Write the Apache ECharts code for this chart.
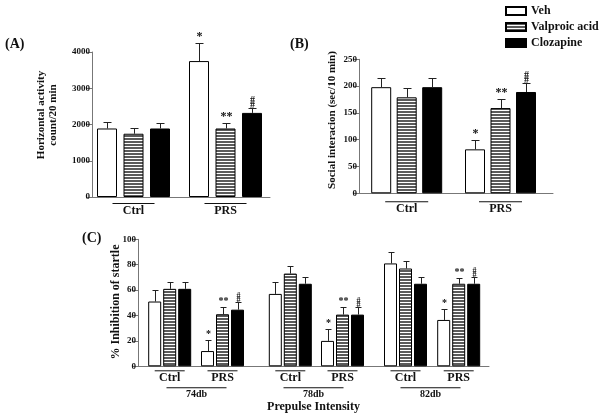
<!DOCTYPE html>
<html lang="en">
<head>
<meta charset="UTF-8">
<title>Veh / Valproic acid / Clozapine</title>
<script src="https://cdn.jsdelivr.net/npm/echarts@6/dist/echarts.min.js"></script>
<style>html,body{margin:0;background:#fff}#chart{width:601px;height:418px}</style>
</head>
<body>
<div id="chart"></div>
<script>
var treatments = ['Veh', 'Valproic acid', 'Clozapine'];
var groups = ['Ctrl', 'PRS'];
var dbLevels = ['74db', '78db', '82db'];
var sigs = [['', '*'], ['', '**'], ['', '##']];

// (A) horizontal activity, count/20 min
var actVeh = [1890, 3750], actVehErr = [170, 500];
var actVal = [1745, 1890], actValErr = [155, 150];
var actCloz = [1890, 2320], actClozErr = [150, 145];

// (B) social interaction, sec/10 min
var socVeh = [198, 82], socVehErr = [18, 17];
var socVal = [179, 159], socValErr = [17, 17];
var socCloz = [198, 189], socClozErr = [18, 17];

// (C) % inhibition of startle, one row per prepulse level: [Ctrl, PRS]
var ppiVeh = [[51, 12], [57, 20], [81, 36.5]];
var ppiVehErr = [[8.7, 9], [9, 9.2], [9.2, 9]];
var ppiVal = [[61, 41], [73, 40.7], [77, 65]];
var ppiValErr = [[5.5, 5.5], [5.8, 6], [6, 4.5]];
var ppiCloz = [[61, 44.6], [65, 40.7], [65, 65]];
var ppiClozErr = [[5.5, 5.8], [5.5, 6], [5.5, 5.5]];

var FONT = 'Liberation Serif';
var AXIS = '#777';

// horizontal stripes for valproic acid
var stripe = document.createElement('canvas');
stripe.width = 4; stripe.height = 3;
var sc = stripe.getContext('2d');
sc.fillStyle = '#fff'; sc.fillRect(0, 0, 4, 3);
sc.fillStyle = '#5a5a5a'; sc.fillRect(0, 0, 4, 2);
var fills = ['#fff', { image: stripe, repeat: 'repeat' }, '#000'];

var grids = [], xAxes = [], yAxes = [], series = [];

function labelAxis(idx, data, lineW, fs, margin, lh) {
  return {
    type: 'category', gridIndex: idx, data: data,
    axisLine: { show: false }, axisTick: { show: false },
    axisLabel: {
      margin: margin, interval: 0,
      formatter: function (v) { return '{l|}\n{t|' + v + '}'; },
      rich: {
        l: { width: lineW, height: 1, backgroundColor: '#111' },
        t: { fontFamily: FONT, fontWeight: 'bold', fontSize: fs, lineHeight: lh, color: '#111', padding: [1, 0, 0, 0] }
      }
    }
  };
}

// outer grid: just the axes
function frame(box, max, step) {
  var idx = grids.length;
  grids.push({ left: box[0], top: box[1], width: box[2], height: box[3] });
  xAxes.push({
    type: 'category', gridIndex: idx, data: groups,
    axisLine: { show: true, lineStyle: { color: AXIS } },
    axisTick: { show: false }, axisLabel: { show: false }
  });
  yAxes.push({
    type: 'value', gridIndex: idx, min: 0, max: max, interval: step,
    axisLine: { show: true, lineStyle: { color: AXIS } },
    axisTick: { show: true, length: 6, lineStyle: { color: AXIS } },
    axisLabel: { fontFamily: FONT, fontWeight: 'bold', fontSize: 9, color: '#111', margin: 2,
      formatter: function (v) { return String(v); } },
    splitLine: { show: false }
  });
  return idx;
}

// inner grid with the bars for one set of groups
function bars(box, max, means, errs, barW, gap, cap, lineW, fs) {
  var idx = grids.length;
  grids.push({ left: box[0], top: box[1], width: box[2], height: box[3] });
  xAxes.push(labelAxis(idx, groups, lineW, 12, box[4], 13));
  yAxes.push({ type: 'value', gridIndex: idx, min: 0, max: max, show: false });
  var step = barW + gap;
  for (var t = 0; t < 3; t++) {
    series.push({
      name: treatments[t], type: 'bar', xAxisIndex: idx, yAxisIndex: idx,
      data: means[t], barWidth: barW, barGap: (gap / barW * 100) + '%',
      itemStyle: { color: fills[t], borderColor: '#000', borderWidth: 1 }
    });
    series.push(errorSeries(idx, t, means[t], errs[t], step, cap, fs));
  }
}

function errorSeries(idx, t, means, errs, step, cap, fs) {
  var sig = sigs[t];
  return {
    type: 'custom', xAxisIndex: idx, yAxisIndex: idx, clip: false, z: 3,
    data: means.map(function (m, i) { return [i, m, errs[i]]; }),
    renderItem: function (params, api) {
      var base = api.coord([api.value(0), api.value(1)]);
      var top = api.coord([api.value(0), api.value(1) + api.value(2)]);
      var x = Math.round(base[0] + (t - 1) * step) + 0.5;
      var y = Math.round(top[1]) + 0.5;
      var ls = { stroke: '#222', lineWidth: 1 };
      var kids = [
        { type: 'line', shape: { x1: x, y1: base[1], x2: x, y2: y }, style: ls },
        { type: 'line', shape: { x1: x - cap / 2, y1: y, x2: x + cap / 2, y2: y }, style: ls }
      ];
      var s = sig[params.dataIndex];
      if (s === '##') {
        // two hashes stacked
        var hs = fs - 2;
        kids.push({ type: 'text', x: x, y: y - 1,
          style: { text: '#\n#', font: 'bold ' + hs + 'px ' + FONT, lineHeight: hs * 0.5,
            fill: '#111', textAlign: 'center', textVerticalAlign: 'bottom' } });
      } else if (s) {
        kids.push({ type: 'text', x: x, y: y - 1,
          style: { text: s, font: 'bold ' + fs + 'px ' + FONT, fill: '#111', textAlign: 'center', textVerticalAlign: 'bottom' } });
      }
      return { type: 'group', children: kids };
    }
  };
}

// (A)
frame([92, 52, 178, 145], 4000, 1000);
bars([87.5, 52, 184, 145, 6], 4000,
  [actVeh, actVal, actCloz], [actVehErr, actValErr, actClozErr], 20, 6.5, 8, 42, 12);

// (B)
frame([359, 59.3, 194, 134], 250, 50);
bars([359.8, 59.3, 187.6, 134, 8], 250,
  [socVeh, socVal, socCloz], [socVehErr, socValErr, socClozErr], 20, 5.5, 8, 43, 12);

// (C)
var cIdx = frame([138, 239.3, 351, 127], 100, 20);
xAxes[cIdx] = {
  type: 'category', gridIndex: cIdx, data: dbLevels,
  axisLine: { show: true, lineStyle: { color: AXIS } }, axisTick: { show: false },
  axisLabel: {
    margin: 21, interval: 0,
    formatter: function (v) { return '{l|}\n{t|' + v + '}'; },
    rich: {
      l: { width: 60, height: 1, backgroundColor: '#111' },
      t: { fontFamily: FONT, fontWeight: 'bold', fontSize: 10, lineHeight: 11, color: '#111', padding: [1, 0, 0, 0] }
    }
  },
  name: 'Prepulse Intensity', nameLocation: 'middle', nameGap: 35,
  nameTextStyle: { fontFamily: FONT, fontWeight: 'bold', fontSize: 12, color: '#111' }
};
var cBoxes = [[143.3, 105.6], [264.2, 104.4], [378.9, 106.4]];
dbLevels.forEach(function (d, k) {
  bars([cBoxes[k][0], 239.3, cBoxes[k][1], 127, 4], 100,
    [ppiVeh[k], ppiVal[k], ppiCloz[k]], [ppiVehErr[k], ppiValErr[k], ppiClozErr[k]], 13, 2, 6, 30, 10);
});

var chart = echarts.init(document.getElementById('chart'), null, { renderer: 'canvas' });
chart.setOption({
  animation: false,
  backgroundColor: '#fff',
  legend: {
    data: treatments, orient: 'vertical', left: 500, top: 0,
    icon: 'rect', itemWidth: 20, itemHeight: 8, itemGap: 4,
    textStyle: { fontFamily: FONT, fontWeight: 'bold', fontSize: 12, lineHeight: 12, color: '#111' }
  },
  grid: grids,
  xAxis: xAxes,
  yAxis: yAxes,
  series: series,
  graphic: [
    { type: 'text', left: 5, top: 37, style: { text: '(A)', font: 'bold 14px ' + FONT, fill: '#111' } },
    { type: 'text', left: 290, top: 37, style: { text: '(B)', font: 'bold 14px ' + FONT, fill: '#111' } },
    { type: 'text', left: 82, top: 231, style: { text: '(C)', font: 'bold 14px ' + FONT, fill: '#111' } },
    { type: 'text', x: 47, y: 115, rotation: Math.PI / 2,
      style: { text: 'Horizontal activity\ncount/20 min', font: 'bold 11px ' + FONT, lineHeight: 12, fill: '#111', textAlign: 'center', textVerticalAlign: 'middle' } },
    { type: 'text', x: 332, y: 120, rotation: Math.PI / 2,
      style: { text: 'Social interacion (sec/10 min)', font: 'bold 11px ' + FONT, fill: '#111', textAlign: 'center', textVerticalAlign: 'middle' } },
    { type: 'text', x: 116, y: 302, rotation: Math.PI / 2,
      style: { text: '% Inhibition of startle', font: 'bold 12px ' + FONT, fill: '#111', textAlign: 'center', textVerticalAlign: 'middle' } }
  ]
});
</script>
</body>
</html>
